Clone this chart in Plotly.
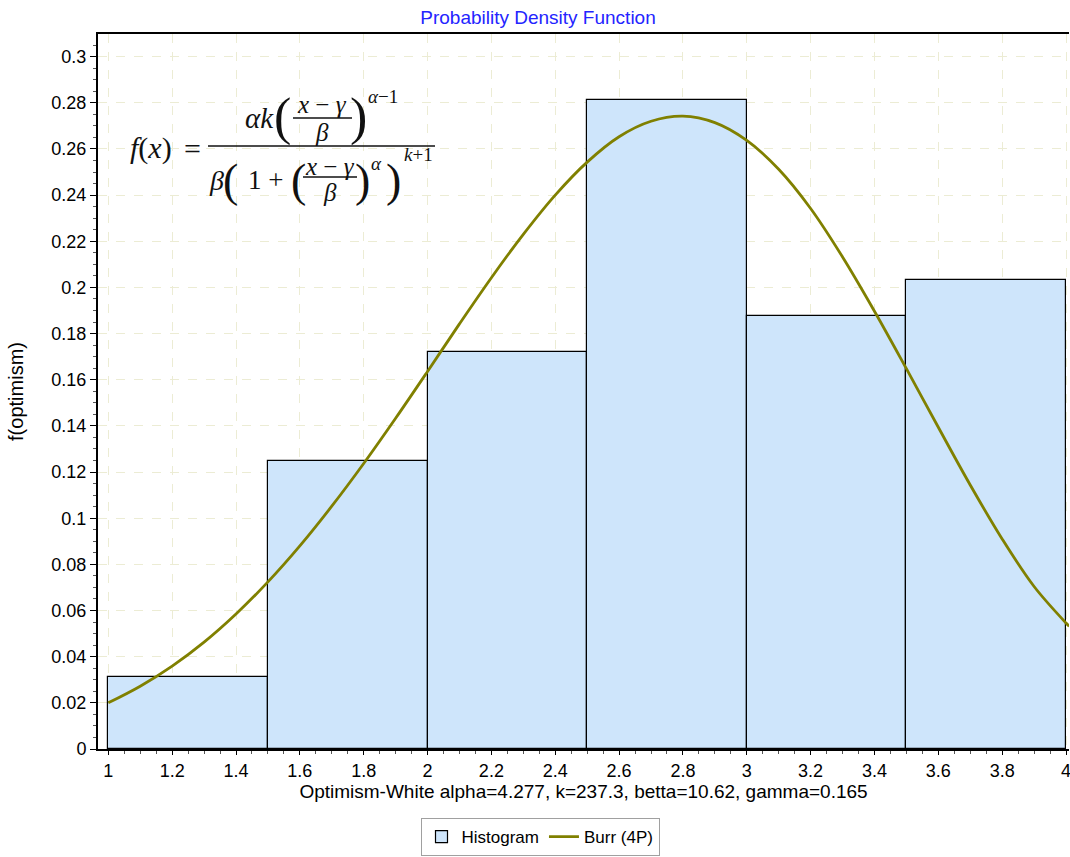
import plotly.graph_objects as go

# ---------------- data ----------------
bin_left = [1.0, 1.5, 2.0, 2.5, 3.0, 3.5]
bin_width = 0.5
hist_density = [0.03125, 0.125, 0.171875, 0.28125, 0.1875, 0.203125]

curve_x = [1.0, 1.1, 1.2, 1.3, 1.4, 1.5, 1.6, 1.7, 1.8, 1.9, 2.0,
           2.1, 2.2, 2.3, 2.4, 2.5, 2.6, 2.7, 2.8, 2.9, 3.0,
           3.1, 3.2, 3.3, 3.4, 3.5, 3.6, 3.7, 3.8, 3.9, 4.0, 4.01]
curve_y = [0.0200, 0.0272, 0.0359, 0.0463, 0.0585, 0.0724, 0.0880, 0.1052, 0.1237, 0.1433, 0.1636,
           0.1842, 0.2042, 0.2230, 0.2400, 0.2543, 0.2653, 0.2720, 0.2742, 0.2714, 0.2637,
           0.2512, 0.2342, 0.2132, 0.1897, 0.1648, 0.1394, 0.1144, 0.0910, 0.0704, 0.0546, 0.0532]

x_tick_vals = [1.0, 1.2, 1.4, 1.6, 1.8, 2.0, 2.2, 2.4, 2.6, 2.8, 3.0, 3.2, 3.4, 3.6, 3.8, 4.0]
x_tick_text = ["1", "1.2", "1.4", "1.6", "1.8", "2", "2.2", "2.4", "2.6", "2.8", "3",
               "3.2", "3.4", "3.6", "3.8", "4"]
y_tick_vals = [0, 0.02, 0.04, 0.06, 0.08, 0.1, 0.12, 0.14, 0.16, 0.18, 0.2,
               0.22, 0.24, 0.26, 0.28, 0.3]
y_tick_text = ["0", "0.02", "0.04", "0.06", "0.08", "0.1", "0.12", "0.14", "0.16", "0.18", "0.2",
               "0.22", "0.24", "0.26", "0.28", "0.3"]

title_text = "Probability Density Function"
x_title = "Optimism-White alpha=4.277, k=237.3, betta=10.62, gamma=0.165"
y_title = "f(optimism)"

# ---------------- figure ----------------
W, H = 1070, 857
PL, PR, PT, PB = 98, 1069, 34, 749

def px(x):
    return (x - PL) / (PR - PL)

def py(y):
    return (PB - y) / (PB - PT)

FONT = "Liberation Sans, Arial, sans-serif"
SERIF = "Liberation Serif, Times New Roman, serif"

fig = go.Figure()
fig.add_trace(go.Bar(
    x=[b + bin_width / 2 for b in bin_left], y=hist_density, width=bin_width,
    marker=dict(color="#CEE5FB", line=dict(color="#000000", width=1.2)),
    name="Histogram",
))
fig.add_trace(go.Scatter(
    x=curve_x, y=curve_y, mode="lines", line_shape="spline",
    line=dict(color="#808000", width=2.8), name="Burr (4P)",
))

grid_col = "rgb(236,236,212)"
fig.update_layout(
    width=W, height=H,
    margin=dict(l=PL, r=W - PR, t=PT, b=H - PB, autoexpand=False),
    paper_bgcolor="white", plot_bgcolor="white",
    font=dict(family=FONT, size=18, color="#000000"),
    title=dict(text=title_text, x=538 / W, xanchor="center", y=1 - 17 / H, yanchor="middle",
               yref="container", font=dict(family=FONT, size=19, color="#2424FF")),
    bargap=0,
    showlegend=True,
    legend=dict(orientation="h", x=px(540), xanchor="center", y=py(856), yanchor="bottom",
                bgcolor="white", bordercolor="#A0A0A0", borderwidth=1,
                font=dict(family=FONT, size=17), itemwidth=30, tracegroupgap=0),
    xaxis=dict(range=[0.9677, 4.0094], tickvals=x_tick_vals, ticktext=x_tick_text,
               showgrid=True, gridcolor=grid_col, griddash="dash", gridwidth=1,
               showline=True, linecolor="#000000", linewidth=2, mirror=True,
               ticks="outside", ticklen=4, tickcolor="#000000",
               minor=dict(dtick=0.05, ticks="outside", ticklen=3, tickcolor="#555555", showgrid=False),
               zeroline=False, tickfont=dict(size=18), ticklabeloverflow="allow",
               title=dict(text=x_title, font=dict(size=19), standoff=1)),
    yaxis=dict(range=[0, 0.3098], tickvals=y_tick_vals, ticktext=y_tick_text,
               showgrid=True, gridcolor=grid_col, griddash="dash", gridwidth=1,
               showline=True, linecolor="#000000", linewidth=2,
               ticks="outside", ticklen=6, tickcolor="#000000",
               minor=dict(dtick=0.005, ticks="outside", ticklen=3, tickcolor="#555555", showgrid=False),
               zeroline=False, tickfont=dict(size=18), ticklabeloverflow="allow",
               title=dict(text=y_title, font=dict(size=20), standoff=22)),
)

# ---------------- formula (text annotations) ----------------
FC = "#111111"

def txt(x, y, s, size, family=SERIF):
    fig.add_annotation(xref="paper", yref="paper", x=px(x), y=py(y), text=s,
                       showarrow=False, xanchor="center", yanchor="middle",
                       font=dict(family=family, size=size, color=FC))

def bar(x0, x1, y, w=1.5):
    fig.add_shape(type="line", xref="paper", yref="paper", x0=px(x0), x1=px(x1),
                  y0=py(y), y1=py(y), line=dict(color=FC, width=w))

txt(151, 148, "<i>f</i>(<i>x</i>)", 30)
txt(192, 148, "=", 30)
bar(208, 435, 146)
# numerator
txt(259, 118, "<i>αk</i>", 29)
txt(282, 117, "(", 52)
txt(322, 104, "<i>x</i> − <i>γ</i>", 25)
bar(293, 352, 118, 1.3)
txt(322, 132, "<i>β</i>", 25)
txt(358, 117, ")", 52)
txt(383, 96, "<i>α</i>−1", 19)
# denominator
txt(216, 180, "<i>β</i>", 28)
txt(230, 180, "(", 46)
txt(265, 180, "1 +", 27)
txt(298, 180, "(", 46)
txt(330, 166, "<i>x</i> − <i>γ</i>", 25)
bar(303, 357, 177, 1.3)
txt(330, 192, "<i>β</i>", 25)
txt(362, 180, ")", 46)
txt(376, 164, "<i>α</i>", 19)
txt(393, 180, ")", 46)
txt(418, 155, "<i>k</i>+1", 19)

fig.write_html("out.html")
